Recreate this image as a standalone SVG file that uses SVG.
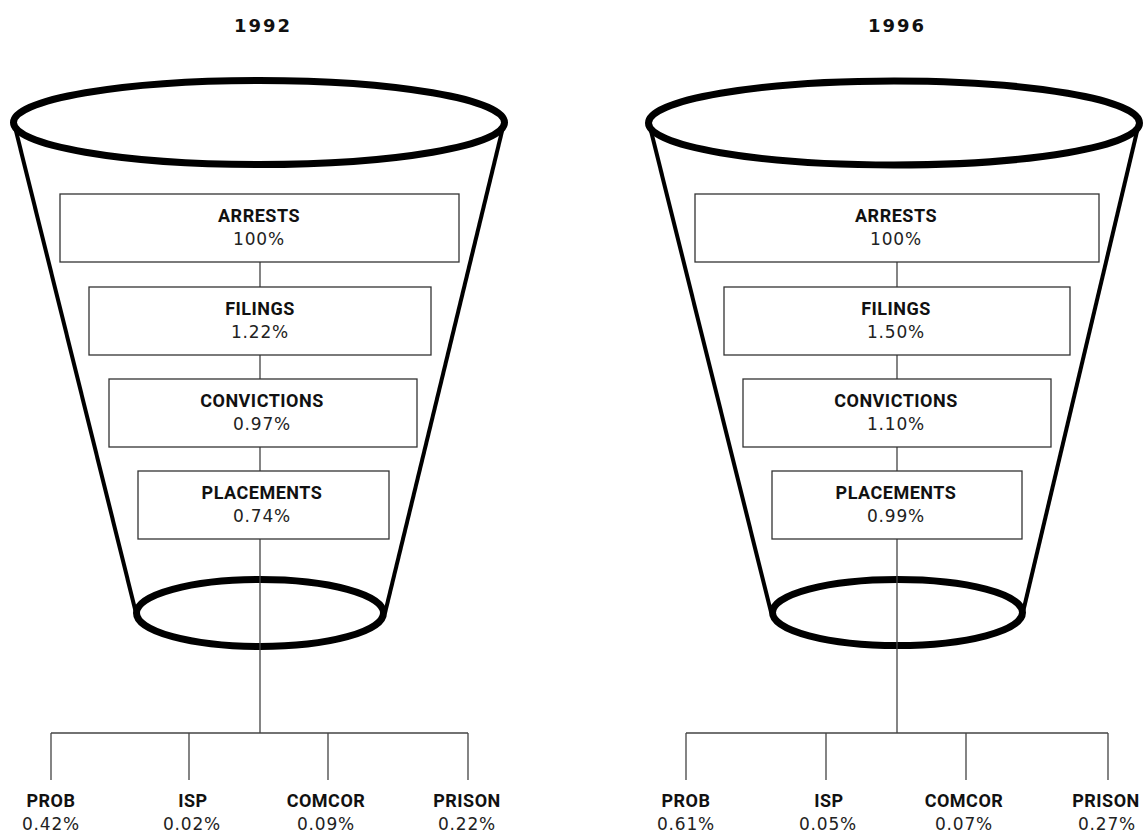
<svg xmlns="http://www.w3.org/2000/svg" width="1143" height="833" viewBox="0 0 1143 833">
<style>
.bg{fill:#fff}
.rim{fill:none;stroke:#000;stroke-width:7}
.side{fill:none;stroke:#000;stroke-width:4}
.box{fill:#fff;stroke:#333;stroke-width:1.3}
.con{fill:none;stroke:#444;stroke-width:1.3}
.t{font-family:Roboto,"DejaVu Sans",sans-serif;font-weight:bold;font-size:18px;letter-spacing:0.5px;fill:#111;text-anchor:middle}
.v{font-family:"DejaVu Sans",sans-serif;font-size:17px;letter-spacing:0.8px;fill:#222;text-anchor:middle}
.yr{font-family:"DejaVu Sans",sans-serif;font-weight:bold;font-size:18px;letter-spacing:2px;fill:#111;text-anchor:middle}
</style>
<rect class="bg" width="1143" height="833"/>

<text class="yr" x="263" y="32">1992</text>
<text class="yr" x="897" y="32">1996</text>

<g id="funnel-1992">
<line class="side" x1="14" y1="123" x2="136" y2="613"/>
<line class="side" x1="504" y1="123" x2="385" y2="613"/>
<ellipse class="rim" cx="259" cy="122.5" rx="245.5" ry="42"/>
<ellipse class="rim" cx="260" cy="613" rx="123.5" ry="33.5"/>
</g>
<g id="funnel-1996">
<line class="side" x1="649" y1="123" x2="771" y2="612"/>
<line class="side" x1="1139" y1="123" x2="1023" y2="612"/>
<ellipse class="rim" cx="894" cy="123" rx="245.5" ry="42"/>
<ellipse class="rim" cx="897.5" cy="612.5" rx="125" ry="33"/>
</g>

<g id="connectors">
<path class="con" d="M260 262V287M260 355V379M260 447V471M260 539V733M51 733H468M51 733V780M189 733V780M328 733V780M468 733V780"/>
<path class="con" d="M897 262V287M897 355V379M897 447V471M897 539V733M686 733H1108M686 733V780M826 733V780M966 733V780M1108 733V780"/>
</g>

<g id="arrests-1992"><rect class="box" x="60" y="194" width="399" height="68"/><text class="t" x="259" y="222">ARRESTS</text><text class="v" x="259" y="245">100%</text></g>
<g id="filings-1992"><rect class="box" x="89" y="287" width="342" height="68"/><text class="t" x="260" y="315">FILINGS</text><text class="v" x="260" y="338">1.22%</text></g>
<g id="convictions-1992"><rect class="box" x="109" y="379" width="308" height="68"/><text class="t" x="262" y="407">CONVICTIONS</text><text class="v" x="262" y="430">0.97%</text></g>
<g id="placements-1992"><rect class="box" x="138" y="471" width="251" height="68"/><text class="t" x="262" y="499">PLACEMENTS</text><text class="v" x="262" y="522">0.74%</text></g>

<g id="arrests-1996"><rect class="box" x="695" y="194" width="404" height="68"/><text class="t" x="896" y="222">ARRESTS</text><text class="v" x="896" y="245">100%</text></g>
<g id="filings-1996"><rect class="box" x="724" y="287" width="346" height="68"/><text class="t" x="896" y="315">FILINGS</text><text class="v" x="896" y="338">1.50%</text></g>
<g id="convictions-1996"><rect class="box" x="743" y="379" width="308" height="68"/><text class="t" x="896" y="407">CONVICTIONS</text><text class="v" x="896" y="430">1.10%</text></g>
<g id="placements-1996"><rect class="box" x="772" y="471" width="250" height="68"/><text class="t" x="896" y="499">PLACEMENTS</text><text class="v" x="896" y="522">0.99%</text></g>

<g id="prob-1992"><text class="t" x="51" y="807">PROB</text><text class="v" x="51" y="830">0.42%</text></g>
<g id="isp-1992"><text class="t" x="193" y="807">ISP</text><text class="v" x="192" y="830">0.02%</text></g>
<g id="comcor-1992"><text class="t" x="326" y="807">COMCOR</text><text class="v" x="326" y="830">0.09%</text></g>
<g id="prison-1992"><text class="t" x="467" y="807">PRISON</text><text class="v" x="467" y="830">0.22%</text></g>

<g id="prob-1996"><text class="t" x="686" y="807">PROB</text><text class="v" x="686" y="830">0.61%</text></g>
<g id="isp-1996"><text class="t" x="829" y="807">ISP</text><text class="v" x="828" y="830">0.05%</text></g>
<g id="comcor-1996"><text class="t" x="964" y="807">COMCOR</text><text class="v" x="964" y="830">0.07%</text></g>
<g id="prison-1996"><text class="t" x="1106" y="807">PRISON</text><text class="v" x="1107" y="830">0.27%</text></g>
</svg>
